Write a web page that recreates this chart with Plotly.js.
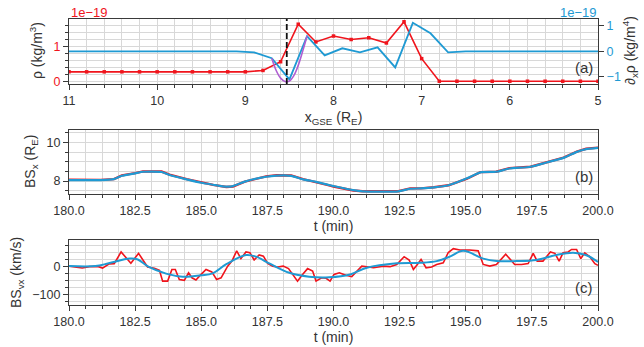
<!DOCTYPE html>
<html><head><meta charset="utf-8">
<script src="https://cdn.plot.ly/plotly-3.0.1.min.js"></script>
<style>html,body{margin:0;padding:0;background:#fff}#c{width:644px;height:347px}</style>
</head><body><div id="c"></div>
<script>
// ---------- Panel (a) data ----------
const rhoX = [11,10.8,10.6,10.4,10.2,10,9.8,9.6,9.4,9.2,9,8.8,8.6,8.4,8.2,8,7.8,7.6,7.4,7.2,7,6.8,6.6,6.4,6.2,6,5.8,5.6,5.4,5.2,5];
const rhoY = [0.27,0.27,0.27,0.27,0.27,0.27,0.27,0.27,0.27,0.27,0.27,0.31,0.56,1.64,1.13,1.30,1.20,1.25,1.10,1.71,0.65,0.0,0.0,0.0,0.0,0.0,0.0,0.0,0.0,0.0,0.0];
const dRhoX = [11,10.9,10.7,10.5,10.3,10.1,9.9,9.7,9.5,9.3,9.1,8.9,8.7,8.5,8.3,8.1,7.9,7.7,7.5,7.3,7.1,6.9,6.7,6.5,6.3,6.1,5.9,5.7,5.5,5.3,5.1,5];
const dRhoY = [0,0,0,0,0,0,0,0,0,0,0,-0.04,-0.27,-1.1,0.60,-0.16,0.12,-0.04,0.16,-0.63,1.12,0.71,-0.04,0,0,0,0,0,0,0,0,0];
const fitX = [8.7,8.65,8.6,8.55,8.5,8.45,8.4,8.35,8.3];
const fitY = [-0.27,-0.75,-1.05,-1.18,-1.16,-0.95,-0.55,0.0,0.6];
const dashX = [8.53];
// ---------- Panel (b) data ----------
const bsxT = [180,180.7,181.2,181.7,182.0,182.5,182.8,183.5,183.8,184.45,185.0,185.45,185.95,186.2,186.65,187.45,187.85,188.4,188.85,189.3,189.8,190.0,190.75,191.1,192.45,192.9,193.3,193.8,194.35,195.05,195.55,196.15,196.65,197.45,198.05,198.7,199.2,199.55,200];
const bsxRed = [8.07,8.07,8.06,8.10,8.29,8.41,8.50,8.49,8.33,8.10,7.92,7.80,7.69,7.72,7.97,8.24,8.30,8.29,8.10,7.97,7.79,7.72,7.51,7.47,7.47,7.62,7.62,7.68,7.78,8.12,8.46,8.48,8.67,8.74,8.97,9.21,9.52,9.67,9.73];
const bsxBlue = [8.05,8.05,8.05,8.10,8.27,8.40,8.48,8.47,8.31,8.09,7.91,7.81,7.71,7.74,7.97,8.22,8.28,8.27,8.09,7.97,7.80,7.74,7.53,7.47,7.47,7.60,7.62,7.67,7.78,8.14,8.45,8.48,8.65,8.74,8.96,9.20,9.51,9.65,9.72];
// ---------- Panel (c) data ----------
const vxT = [180.0,180.33,180.5,180.77,181.08,181.27,181.52,181.71,181.97,182.34,182.63,182.97,183.23,183.42,183.54,183.73,183.89,184.02,184.17,184.36,184.52,184.65,184.80,184.93,185.18,185.40,185.58,185.75,186.0,186.16,186.34,186.50,186.69,186.84,187.0,187.19,187.35,187.51,187.70,187.89,188.10,188.30,188.48,188.64,188.83,189.02,189.21,189.34,189.55,189.72,189.87,190.02,190.22,190.47,190.69,190.88,191.07,191.26,191.51,191.89,192.14,192.39,192.67,192.86,193.02,193.17,193.31,193.50,193.71,193.90,194.15,194.34,194.53,194.78,195.15,195.47,195.66,195.91,196.16,196.51,196.85,197.11,197.36,197.55,197.70,197.92,198.20,198.37,198.53,198.68,198.87,199.0,199.19,199.35,199.50,199.69,199.88,200.0];
const vxRed = [2,-4,-5,0,1,-5,10,11,53,12,48,-1,-6,-13,-52,-52,-10,-10,-46,-49,-22,-40,-48,-34,-10,-19,-46,-40,2,20,57,29,53,50,24,42,38,12,2,-1,2,-7,-31,-52,-28,-7,-16,-52,-40,-42,-52,-28,-22,-31,-36,-16,2,0,-4,2,0,8,36,24,-10,8,26,-4,-1,8,14,51,65,60,60,57,8,2,8,45,8,8,11,48,20,20,53,48,20,50,53,62,62,29,50,36,11,5];
const vxSmT = [180,181.0,181.5,182.3,182.6,183.0,183.67,184.3,185.0,185.43,185.93,186.69,187.07,187.57,188.33,189.08,189.84,190.63,191.26,192.39,193.27,193.9,194.4,194.9,195.66,196.16,196.92,197.67,198.43,199.06,199.56,200];
const vxSmY = [2,2,12,29,26,0,-25,-36,-31,-24,8,42,36,12,-22,-36,-38,-28,-4,12,14,20,36,57,29,20,20,24,42,50,41,17];

const RED = '#f0141c', BLUE = '#1f9ad3', PURPLE = '#b05ed2';
const W = 644, H = 347;
const FONT = 'Liberation Sans, Arial, sans-serif';
const GRID = '#d8d8d8', LINE = '#3a3a3a', TXT = '#333';
const px = v => v / W, py = v => 1 - v / H;
const TF = {size: 14, family: FONT, color: TXT};

function axisBase(extra) {
  return Object.assign({
    showline: true, linecolor: LINE, linewidth: 1.2, mirror: true,
    ticks: 'outside', ticklen: 5, tickcolor: LINE, tickwidth: 1,
    showgrid: true, gridcolor: GRID, gridwidth: 1, zeroline: false,
    tickfont: {family: FONT, size: 12.5, color: TXT}, automargin: false
  }, extra);
}

const traces = [
  {x: dRhoX, y: dRhoY, xaxis: 'x', yaxis: 'y2', mode: 'lines', line: {color: BLUE, width: 1.8}},
  {x: fitX, y: fitY, xaxis: 'x', yaxis: 'y2', mode: 'lines', line: {color: PURPLE, width: 1.6, shape: 'spline'}},
  {x: rhoX, y: rhoY, xaxis: 'x', yaxis: 'y', mode: 'lines+markers', line: {color: RED, width: 1.6}, marker: {color: RED, size: 3.5, symbol: 'square'}},
  {x: bsxT, y: bsxRed, xaxis: 'x2', yaxis: 'y3', mode: 'lines', line: {color: RED, width: 2.4}},
  {x: bsxT, y: bsxBlue, xaxis: 'x2', yaxis: 'y3', mode: 'lines', line: {color: BLUE, width: 2.2, shape: 'spline', smoothing: 0.6}},
  {x: vxT, y: vxRed, xaxis: 'x3', yaxis: 'y4', mode: 'lines', line: {color: RED, width: 1.6}},
  {x: vxSmT, y: vxSmY, xaxis: 'x3', yaxis: 'y4', mode: 'lines', line: {color: BLUE, width: 2.0, shape: 'spline', smoothing: 1}}
];

function ytitle(text, x, y) {
  return {text: text, xref: 'paper', yref: 'paper', x: px(x), y: py(y), xanchor: 'center', yanchor: 'middle',
    textangle: -90, showarrow: false, font: TF};
}

const xDom = [px(69), px(598)];
const layout = {
  width: W, height: H, margin: {l: 0, r: 0, t: 0, b: 0},
  paper_bgcolor: '#fff', plot_bgcolor: '#fff', showlegend: false,
  font: {family: FONT, color: TXT},
  xaxis: axisBase({domain: xDom, anchor: 'y', range: [11, 5], dtick: 1, tick0: 5,
    minor: {dtick: 0.2, tick0: 5, ticklen: 3, tickcolor: LINE, showgrid: true, gridcolor: GRID},
    title: {text: 'x<sub>GSE</sub> (R<sub>E</sub>)', font: TF, standoff: 5}}),
  yaxis: axisBase({domain: [py(84), py(19)], anchor: 'x', range: [-0.08, 1.79], tickvals: [0, 1],
    tickfont: {family: FONT, size: 12.5, color: RED},
    minor: {dtick: 0.2, tick0: 0, ticklen: 3, tickcolor: LINE, showgrid: true, gridcolor: GRID}}),
  yaxis2: axisBase({overlaying: 'y', side: 'right', anchor: 'x', range: [-1.28, 1.27], tickvals: [-1, 0, 1],
    showgrid: false, mirror: false, tickfont: {family: FONT, size: 12.5, color: BLUE}}),
  xaxis2: axisBase({domain: xDom, anchor: 'y3', range: [180, 200], dtick: 2.5, tick0: 180, tickformat: '.1f',
    minor: {dtick: 0.625, tick0: 180, ticklen: 3, tickcolor: LINE, showgrid: true, gridcolor: GRID},
    title: {text: 't (min)', font: TF, standoff: 2}}),
  yaxis3: axisBase({domain: [py(194), py(130)], anchor: 'x2', range: [7.33, 10.64], tickvals: [8, 10],
    minor: {dtick: 0.5, tick0: 0, ticklen: 3, tickcolor: LINE, showgrid: true, gridcolor: GRID}}),
  xaxis3: axisBase({domain: xDom, anchor: 'y4', range: [180, 200], dtick: 2.5, tick0: 180, tickformat: '.1f',
    minor: {dtick: 0.625, tick0: 180, ticklen: 3, tickcolor: LINE, showgrid: true, gridcolor: GRID},
    title: {text: 't (min)', font: TF, standoff: 2}}),
  yaxis4: axisBase({domain: [py(305), py(240)], anchor: 'x3', range: [-138, 96], tickvals: [-100, 0],
    minor: {dtick: 25, tick0: 0, ticklen: 3, tickcolor: LINE, showgrid: true, gridcolor: GRID}}),
  shapes: [{type: 'line', xref: 'x', yref: 'y domain', x0: dashX[0], x1: dashX[0], y0: 0, y1: 1,
    line: {color: '#111', width: 1.8, dash: '6px,3px'}}],
  annotations: [
    ytitle('ρ (kg/m<sup>3</sup>)', 36, 51),
    ytitle('∂<sub>x</sub>ρ (kg/m<sup>4</sup>)', 630, 51),
    ytitle('BS<sub>x</sub> (R<sub>E</sub>)', 31, 162),
    ytitle('BS<sub>vx</sub> (km/s)', 17, 273),
    {text: '1e−19', xref: 'paper', yref: 'paper', x: px(69), y: py(12), xanchor: 'left', yanchor: 'middle', showarrow: false, font: {size: 13, family: FONT, color: RED}},
    {text: '1e−19', xref: 'paper', yref: 'paper', x: px(599), y: py(12), xanchor: 'right', yanchor: 'middle', showarrow: false, font: {size: 13, family: FONT, color: BLUE}},
    {text: '(a)', xref: 'paper', yref: 'paper', x: px(595), y: py(67), xanchor: 'right', yanchor: 'middle', showarrow: false, font: {size: 15, family: FONT, color: TXT}},
    {text: '(b)', xref: 'paper', yref: 'paper', x: px(595), y: py(177), xanchor: 'right', yanchor: 'middle', showarrow: false, font: {size: 15, family: FONT, color: TXT}},
    {text: '(c)', xref: 'paper', yref: 'paper', x: px(595), y: py(287), xanchor: 'right', yanchor: 'middle', showarrow: false, font: {size: 15, family: FONT, color: TXT}}
  ]
};
Plotly.newPlot('c', traces, layout, {displayModeBar: false, responsive: false});
</script></body></html>
